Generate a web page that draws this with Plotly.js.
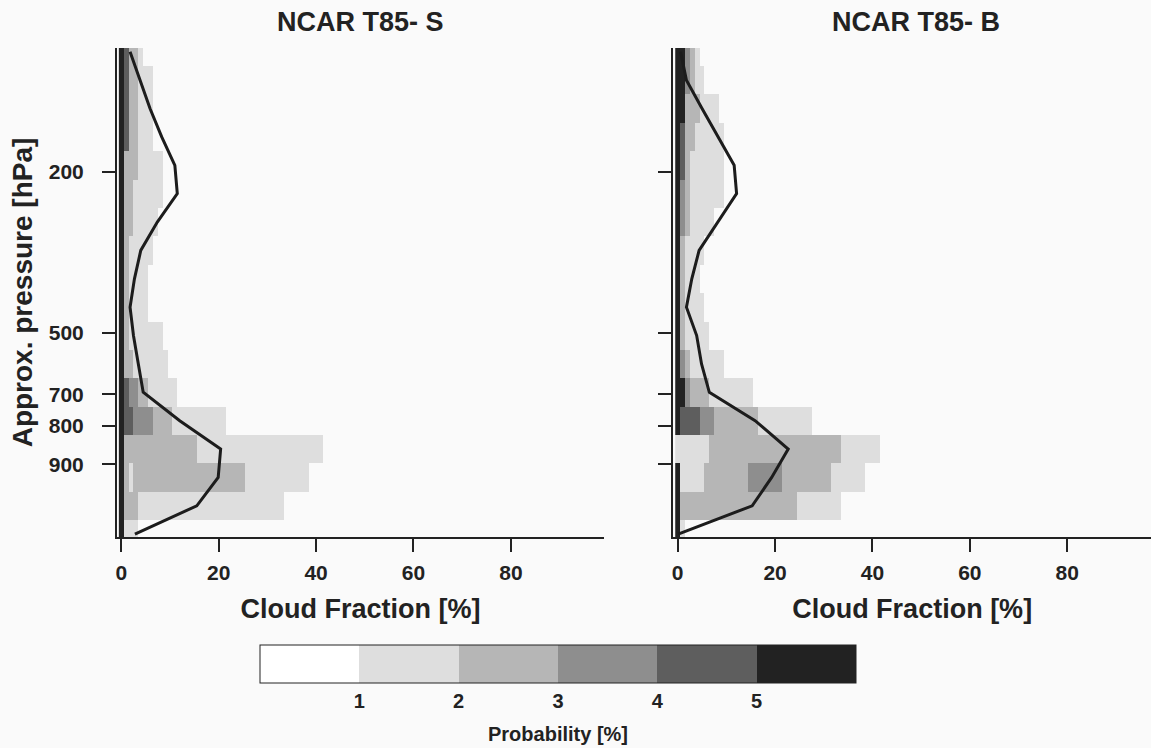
<!DOCTYPE html>
<html>
<head>
<meta charset="utf-8">
<script src="https://cdn.plot.ly/plotly-3.0.1.min.js"></script>
<style>html,body{margin:0;padding:0;background:#fafafa;}#chart{width:1151px;height:748px;}</style>
</head>
<body>
<div id="chart"></div>
<script>
// ---- data ----
// model levels, top (0) to surface (17)
const levels = [0,1,2,3,4,5,6,7,8,9,10,11,12,13,14,15,16,17];
// cloud-fraction bins (1 % wide, centred on integers)
const cfBins = Array.from({length: 100}, (_, i) => i);
// pressure tick labels and their approximate level positions
const pressureTickPos = [4.23, 9.90, 12.07, 13.19, 14.54];
const pressureTickText = ['200', '500', '700', '800', '900'];
// probability classes: 0:<1, 1:1-2, 2:2-3, 3:3-4, 4:4-5, 5:>5 %
// each row: runs of [last bin, class] from bin 0 upward
const runsS = [
  [[0,5],[1,4],[3,2],[4,1]],
  [[0,5],[1,4],[3,2],[6,1]],
  [[0,5],[1,4],[3,2],[6,1]],
  [[0,5],[1,4],[3,2],[6,1]],
  [[0,5],[3,2],[8,1]],
  [[0,5],[2,2],[8,1]],
  [[0,5],[2,2],[7,1]],
  [[0,5],[1,2],[6,1]],
  [[0,5],[1,2],[5,1]],
  [[0,5],[1,2],[5,1]],
  [[0,5],[1,2],[8,1]],
  [[0,5],[2,2],[9,1]],
  [[0,5],[1,4],[3,3],[5,2],[11,1]],
  [[0,5],[2,4],[6,3],[10,2],[21,1]],
  [[0,5],[15,2],[41,1]],
  [[0,5],[1,2],[2,1],[25,2],[38,1]],
  [[0,5],[3,2],[33,1]],
  [[0,5],[3,1]]
];
const runsB = [
  [[1,5],[2,3],[3,2],[4,1]],
  [[1,5],[2,3],[3,2],[5,1]],
  [[1,5],[4,2],[8,1]],
  [[0,5],[1,4],[3,2],[9,1]],
  [[0,5],[1,4],[2,2],[9,1]],
  [[0,5],[1,3],[2,2],[9,1]],
  [[0,5],[1,3],[2,2],[7,1]],
  [[0,5],[1,2],[5,1]],
  [[0,5],[1,2],[4,1]],
  [[0,5],[1,2],[5,1]],
  [[0,5],[1,2],[6,1]],
  [[0,5],[1,3],[2,2],[9,1]],
  [[1,5],[2,3],[6,2],[15,1]],
  [[0,5],[4,4],[7,3],[16,2],[27,1]],
  [[6,1],[33,2],[41,1]],
  [[0,5],[5,1],[14,2],[21,3],[31,2],[38,1]],
  [[0,5],[24,2],[33,1]],
  [[0,5],[1,1]]
];
// mean cloud fraction profiles [%]
const meanS = [1.8, 3.8, 5.9, 8.3, 11.0, 11.5, 7.4, 4.0, 2.7, 1.8, 2.5, 3.5, 4.5, 12.0, 20.4, 19.9, 15.5, 2.8];
const meanB = [0.6, 1.8, 5.0, 8.3, 11.6, 12.1, 8.3, 4.4, 2.9, 1.8, 3.9, 4.9, 6.5, 15.9, 22.7, 19.3, 15.3, 0.1];
const panelTitles = ['NCAR T85- S', 'NCAR T85- B'];
const classColors = ['#ffffff', '#dedede', '#b6b6b6', '#8e8e8e', '#5e5e5e', '#222222'];
const probTicks = [1, 2, 3, 4, 5];

// ---- build grids ----
function buildZ(runs) {
  return runs.map(row => {
    const out = cfBins.map(() => null);
    let start = 0;
    row.forEach(([last, cls]) => {
      for (let b = start; b <= last; b++) if (cls > 0) out[b] = cls + 0.5;
      start = last + 1;
    });
    return out;
  });
}
const cs = [];
classColors.forEach((c, i) => { cs.push([i / 6, c]); cs.push([(i + 1) / 6, c]); });

const FONT = 'Liberation Sans, Arial, Helvetica, sans-serif';
const TXT = '#222222';
const bold = (s) => ({family: FONT, size: s, color: TXT, weight: 'bold'});

const data = [
  {type: 'heatmap', x: cfBins, y: levels, z: buildZ(runsS), coloraxis: 'coloraxis',
   xaxis: 'x', yaxis: 'y', zsmooth: false, hoverinfo: 'skip'},
  {type: 'heatmap', x: cfBins, y: levels, z: buildZ(runsB), coloraxis: 'coloraxis',
   xaxis: 'x2', yaxis: 'y2', zsmooth: false, hoverinfo: 'skip'},
  {type: 'scatter', mode: 'lines', x: meanS, y: levels, xaxis: 'x', yaxis: 'y',
   line: {color: '#1c1c1c', width: 3}, showlegend: false, hoverinfo: 'skip'},
  {type: 'scatter', mode: 'lines', x: meanB, y: levels, xaxis: 'x2', yaxis: 'y2',
   line: {color: '#1c1c1c', width: 3}, showlegend: false, hoverinfo: 'skip'}
];

const xCommon = {
  tickvals: [0, 20, 40, 60, 80], ticks: 'outside', ticklen: 13, tickwidth: 2, tickcolor: TXT,
  showline: true, linewidth: 2, linecolor: TXT, showgrid: false, zeroline: false,
  tickfont: bold(21), ticklabelstandoff: 3,
  title: {text: 'Cloud Fraction [%]', font: bold(27), standoff: 16}
};
const yCommon = {
  range: [17.1, -0.134], tickvals: pressureTickPos, ticktext: pressureTickText,
  ticks: 'outside', ticklen: 13, tickwidth: 2, tickcolor: TXT,
  showline: true, linewidth: 2, linecolor: TXT, showgrid: false, zeroline: false,
  tickfont: bold(21), ticklabelstandoff: 14
};

const layout = {
  width: 1151, height: 748,
  margin: {l: 117, r: 0, t: 48, b: 211, autoexpand: false},
  paper_bgcolor: '#fafafa', plot_bgcolor: '#fafafa',
  showlegend: false,
  xaxis: Object.assign({}, xCommon, {domain: [0, 0.471], range: [-0.88, 99.12], anchor: 'y'}),
  yaxis: Object.assign({}, yCommon, {domain: [0, 1], anchor: 'x',
    title: {text: 'Approx. pressure [hPa]', font: bold(28), standoff: 8}}),
  xaxis2: Object.assign({}, xCommon, {domain: [0.538, 1], range: [-0.9, 97.2], anchor: 'y2'}),
  yaxis2: Object.assign({}, yCommon, {domain: [0, 1], anchor: 'x2', showticklabels: false}),
  coloraxis: {
    cmin: 0, cmax: 6, colorscale: cs,
    colorbar: {
      orientation: 'h', xref: 'paper', yref: 'paper',
      x: (558 - 117) / 1034, xanchor: 'center', y: (537 - 635) / 489, yanchor: 'top',
      len: 616, lenmode: 'pixels', thickness: 38,
      outlinewidth: 1, outlinecolor: TXT,
      tickvals: probTicks, ticktext: probTicks.map(String), ticks: '',
      tickfont: bold(20)
    }
  },
  annotations: [
    {text: panelTitles[0], xref: 'paper', yref: 'paper', x: (360 - 117) / 1034, y: (537 - 22) / 489,
     xanchor: 'center', yanchor: 'middle', showarrow: false, font: bold(27)},
    {text: panelTitles[1], xref: 'paper', yref: 'paper', x: (916 - 117) / 1034, y: (537 - 22) / 489,
     xanchor: 'center', yanchor: 'middle', showarrow: false, font: bold(27)},
    {text: 'Probability [%]', xref: 'paper', yref: 'paper', x: (558 - 117) / 1034, y: (537 - 734) / 489,
     xanchor: 'center', yanchor: 'middle', showarrow: false, font: bold(20)}
  ]
};

Plotly.newPlot('chart', data, layout, {displayModeBar: false, staticPlot: true});
</script>
</body>
</html>
